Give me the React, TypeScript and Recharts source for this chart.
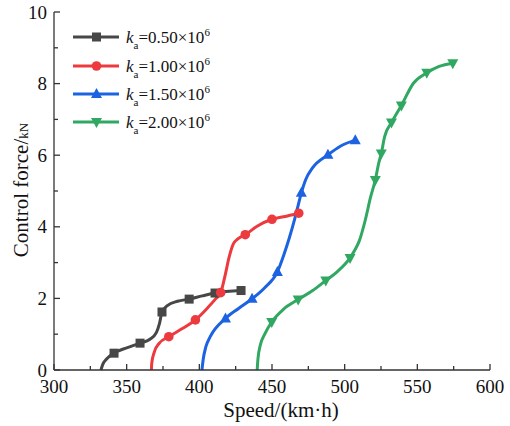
import React from "react";
import {
  ComposedChart,
  Line,
  XAxis,
  YAxis,
} from "recharts";

type Pt = { v: number; f: number; m?: boolean };

// ka = 0.50e6
const seriesA: Pt[] = [
  { v: 332.3, f: 0 },
  { v: 333.5, f: 0.15 },
  { v: 336, f: 0.3 },
  { v: 341.3, f: 0.47, m: true },
  { v: 350, f: 0.62 },
  { v: 359.2, f: 0.75, m: true },
  { v: 366, f: 0.86 },
  { v: 370.5, f: 1.05 },
  { v: 372.6, f: 1.3 },
  { v: 374.3, f: 1.62, m: true },
  { v: 378, f: 1.8 },
  { v: 385, f: 1.92 },
  { v: 393, f: 1.98, m: true },
  { v: 402, f: 2.07 },
  { v: 410.8, f: 2.15, m: true },
  { v: 428.7, f: 2.22, m: true },
];

// ka = 1.00e6
const seriesB: Pt[] = [
  { v: 367, f: 0 },
  { v: 367.3, f: 0.2 },
  { v: 369, f: 0.5 },
  { v: 372.5, f: 0.75 },
  { v: 379, f: 0.93, m: true },
  { v: 388, f: 1.15 },
  { v: 397.3, f: 1.4, m: true },
  { v: 406, f: 1.75 },
  { v: 411.5, f: 2.0 },
  { v: 414.7, f: 2.16, m: true },
  { v: 417.5, f: 2.6 },
  { v: 420.5, f: 3.15 },
  { v: 423.4, f: 3.52 },
  { v: 426.5, f: 3.66 },
  { v: 431.6, f: 3.78, m: true },
  { v: 440, f: 4.02 },
  { v: 450, f: 4.21, m: true },
  { v: 458, f: 4.28 },
  { v: 468.4, f: 4.38, m: true },
];

// ka = 1.50e6
const seriesC: Pt[] = [
  { v: 401.8, f: 0 },
  { v: 402.6, f: 0.28 },
  { v: 404.5, f: 0.65 },
  { v: 407.5, f: 0.93 },
  { v: 418, f: 1.44, m: true },
  { v: 427, f: 1.72 },
  { v: 436.3, f: 1.99, m: true },
  { v: 445, f: 2.3 },
  { v: 453.7, f: 2.74, m: true },
  { v: 458, f: 3.2 },
  { v: 462, f: 3.7 },
  { v: 465.5, f: 4.2 },
  { v: 468, f: 4.6 },
  { v: 470.2, f: 4.95, m: true },
  { v: 473, f: 5.3 },
  { v: 478, f: 5.65 },
  { v: 488.5, f: 6.01, m: true },
  { v: 497, f: 6.25 },
  { v: 507.3, f: 6.42, m: true },
];

// ka = 2.00e6
const seriesD: Pt[] = [
  { v: 439.8, f: 0 },
  { v: 440.3, f: 0.3 },
  { v: 442, f: 0.7 },
  { v: 445, f: 1.0 },
  { v: 449.8, f: 1.34, m: true },
  { v: 458, f: 1.7 },
  { v: 468, f: 1.97, m: true },
  { v: 478, f: 2.22 },
  { v: 487, f: 2.5, m: true },
  { v: 495, f: 2.75 },
  { v: 503.7, f: 3.13, m: true },
  { v: 507, f: 3.35 },
  { v: 510, f: 3.6 },
  { v: 514.2, f: 4.19 },
  { v: 517.9, f: 4.84 },
  { v: 521.1, f: 5.31, m: true },
  { v: 523.4, f: 5.77 },
  { v: 525.2, f: 6.05, m: true },
  { v: 527.5, f: 6.52 },
  { v: 532.2, f: 6.91, m: true },
  { v: 539, f: 7.39, m: true },
  { v: 547.3, f: 8.01 },
  { v: 556.5, f: 8.3, m: true },
  { v: 565, f: 8.48 },
  { v: 574.4, f: 8.57, m: true },
];

const legendValues = ["0.50", "1.00", "1.50", "2.00"];
const colors = ["#474747", "#ec3a3e", "#1c63e2", "#30a862"];
const shapes = ["square", "circle", "triangleUp", "triangleDown"];
const allSeries = [seriesA, seriesB, seriesC, seriesD];

const xTicks = [300, 325, 350, 375, 400, 425, 450, 475, 500, 525, 550, 575, 600];
const xLabelTicks = [300, 350, 400, 450, 500, 550, 600];
const yTicks = [0, 1, 2, 3, 4, 5, 6, 7, 8, 9, 10];
const yLabelTicks = [0, 2, 4, 6, 8, 10];

const FONT = "'Liberation Serif', 'Times New Roman', serif";
const AXIS = "#333";

function Marker({ shape, cx, cy, color }: { shape: string; cx: number; cy: number; color: string }) {
  if (shape === "square") {
    return <rect x={cx - 4.5} y={cy - 4.5} width={9} height={9} fill={color} />;
  }
  if (shape === "circle") {
    return <circle cx={cx} cy={cy} r={4.8} fill={color} />;
  }
  if (shape === "triangleUp") {
    return (
      <polygon
        points={`${cx},${cy - 6} ${cx - 5.5},${cy + 4} ${cx + 5.5},${cy + 4}`}
        fill={color}
      />
    );
  }
  return (
    <polygon
      points={`${cx},${cy + 6} ${cx - 5.5},${cy - 4} ${cx + 5.5},${cy - 4}`}
      fill={color}
    />
  );
}

const XTick = (props: any) => {
  const { x, y, payload } = props;
  const major = xLabelTicks.includes(payload.value);
  return (
    <g>
      <line x1={x} y1={y} x2={x} y2={y - (major ? 6 : 4)} stroke={AXIS} strokeWidth={1.3} />
      {major && (
        <text x={x} y={y + 23} textAnchor="middle" fontFamily={FONT} fontSize={19} fill="#111">
          {payload.value}
        </text>
      )}
    </g>
  );
};

const YTick = (props: any) => {
  const { x, y, payload } = props;
  const major = yLabelTicks.includes(payload.value);
  return (
    <g>
      <line x1={x} y1={y} x2={x + (major ? 6 : 4)} y2={y} stroke={AXIS} strokeWidth={1.3} />
      {major && (
        <text x={x - 7} y={y + 6.5} textAnchor="end" fontFamily={FONT} fontSize={19} fill="#111">
          {payload.value}
        </text>
      )}
    </g>
  );
};

function Overlay() {
  const rows = [37, 66, 94, 122];
  return (
    <svg
      width={510}
      height={140}
      style={{ position: "absolute", left: 0, top: 0, pointerEvents: "none" }}
    >
      {/* small white break in the top frame, as in the reference */}
      <rect x={178} y={8} width={29} height={8} fill="#fff" />
      {legendValues.map((val, i) => {
        const y = rows[i];
        return (
          <g key={val}>
            <line x1={73} y1={y} x2={119} y2={y} stroke={colors[i]} strokeWidth={3} />
            <Marker shape={shapes[i]} cx={96.5} cy={y} color={colors[i]} />
            <text x={126} y={y + 6} fontFamily={FONT} fontSize={17} fill="#111">
              <tspan fontStyle="italic">k</tspan>
              <tspan fontSize={11} dy={6}>a</tspan>
              <tspan dy={-6}>={val}×10</tspan>
              <tspan fontSize={11} dy={-7}>6</tspan>
            </text>
          </g>
        );
      })}
    </svg>
  );
}

export default function App() {
  return (
    <div style={{ position: "absolute", left: 0, top: 0, width: 510, height: 426, background: "#fff" }}>
      <ComposedChart
        width={510}
        height={426}
        margin={{ top: 12, right: 20, left: 0, bottom: 0 }}
      >
        <XAxis
          xAxisId="main"
          dataKey="v"
          type="number"
          domain={[300, 600]}
          ticks={xTicks}
          interval={0}
          allowDataOverflow
          height={56}
          tickSize={0}
          tickMargin={0}
          tick={<XTick />}
          axisLine={{ stroke: AXIS, strokeWidth: 1.3 }}
          label={{
            content: (p: any) => {
              const vb = p.viewBox || { x: 54, y: 370, width: 436, height: 56 };
              return (
                <text
                  x={vb.x + vb.width / 2 + 9}
                  y={vb.y + 47}
                  textAnchor="middle"
                  fontFamily={FONT}
                  fontSize={21}
                  fill="#111"
                >
                  Speed/(km·h)
                </text>
              );
            },
          }}
        />
        <XAxis
          xAxisId="top"
          orientation="top"
          type="number"
          domain={[300, 600]}
          height={0}
          tick={false}
          tickLine={false}
          axisLine={{ stroke: AXIS, strokeWidth: 1.3 }}
        />
        <YAxis
          yAxisId="main"
          type="number"
          domain={[0, 10]}
          ticks={yTicks}
          interval={0}
          width={54}
          tickSize={0}
          tickMargin={0}
          tick={<YTick />}
          axisLine={{ stroke: AXIS, strokeWidth: 1.3 }}
          label={{
            content: () => (
              <text
                transform="translate(28,190) rotate(-90)"
                textAnchor="middle"
                fontFamily={FONT}
                fontSize={21}
                fill="#111"
              >
                Control force/<tspan fontSize={13}>kN</tspan>
              </text>
            ),
          }}
        />
        <YAxis
          yAxisId="right"
          orientation="right"
          type="number"
          domain={[0, 10]}
          width={0}
          tick={false}
          tickLine={false}
          axisLine={{ stroke: AXIS, strokeWidth: 1.3 }}
        />
        {allSeries.map((s, i) => (
          <Line
            key={i}
            xAxisId="main"
            yAxisId="main"
            data={s}
            dataKey="f"
            type="monotone"
            stroke={colors[i]}
            strokeWidth={3}
            isAnimationActive={false}
            activeDot={false}
            dot={(p: any) =>
              p.payload && p.payload.m ? (
                <Marker key={`m${i}-${p.index}`} shape={shapes[i]} cx={p.cx} cy={p.cy} color={colors[i]} />
              ) : (
                <g key={`n${i}-${p.index}`} />
              )
            }
          />
        ))}
      </ComposedChart>
      <Overlay />
    </div>
  );
}
